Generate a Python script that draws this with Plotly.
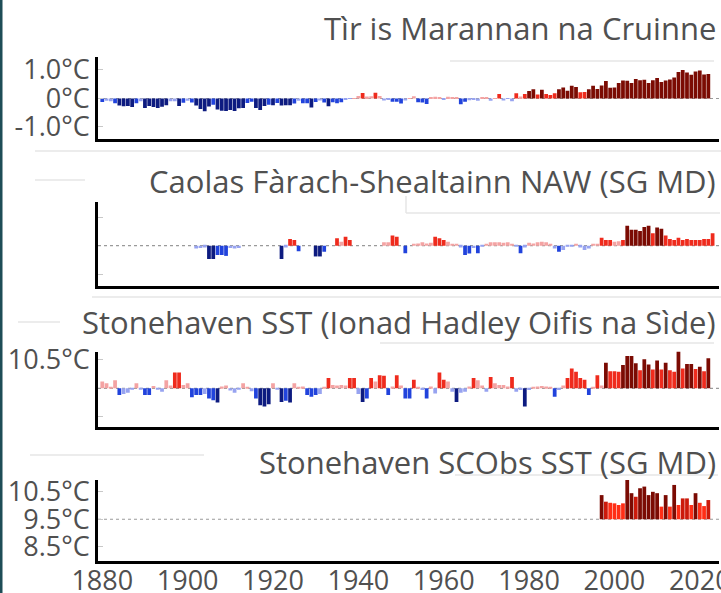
import plotly.graph_objects as go

# ---------------- data ----------------
global_years = list(range(1880, 2023))
global_anom = [
    -0.12, -0.08, -0.10, -0.17, -0.25, -0.27, -0.26, -0.30, -0.17, -0.10,
    -0.33, -0.26, -0.30, -0.33, -0.29, -0.24, -0.10, -0.10, -0.26, -0.15,
    -0.08, -0.14, -0.25, -0.37, -0.45, -0.28, -0.22, -0.39, -0.43, -0.44,
    -0.40, -0.44, -0.34, -0.33, -0.16, -0.11, -0.33, -0.40, -0.26, -0.22,
    -0.24, -0.16, -0.25, -0.24, -0.24, -0.18, -0.08, -0.17, -0.17, -0.32,
    -0.12, -0.07, -0.14, -0.27, -0.13, -0.17, -0.13, -0.02, -0.01, 0.01,
    0.09, 0.19, 0.07, 0.08, 0.20, 0.09, -0.07, -0.04, -0.11, -0.11,
    -0.18, -0.07, 0.01, 0.08, -0.13, -0.14, -0.19, 0.05, 0.06, 0.03,
    -0.03, 0.06, 0.03, 0.05, -0.20, -0.11, -0.06, -0.02, -0.08, 0.05,
    0.03, -0.08, 0.01, 0.16, -0.07, -0.01, -0.10, 0.18, 0.07, 0.16,
    0.26, 0.32, 0.14, 0.31, 0.16, 0.12, 0.18, 0.32, 0.39, 0.27,
    0.45, 0.40, 0.22, 0.23, 0.32, 0.45, 0.33, 0.46, 0.61, 0.38,
    0.39, 0.54, 0.63, 0.62, 0.54, 0.68, 0.64, 0.66, 0.54, 0.64,
    0.72, 0.58, 0.63, 0.67, 0.74, 0.93, 1.00, 0.91, 0.83, 0.95,
    0.98, 0.84, 0.86,
]

fsc_years = list(range(1902, 2024))
fsc_anom = [
    -0.05, -0.04, -0.03, -0.235, -0.235, -0.165, -0.165, -0.18, -0.04, -0.05,
    -0.04, None, None, None, None, None, None, None, None, None,
    -0.235, -0.03, 0.12, 0.10, -0.10, None, None, None, -0.19, -0.19,
    -0.106, None, None, 0.13, 0.07, 0.16, 0.10, None, None, None,
    None, None, None, None, 0.06, 0.06, 0.18, 0.16, None, -0.135,
    None, 0.03, 0.04, 0.06, 0.04, 0.05, 0.16, 0.13, 0.10, 0.07,
    0.03, 0.02, -0.03, -0.165, -0.14, -0.04, -0.135, -0.02, 0.02, 0.06,
    0.06, 0.06, 0.05, 0.06, 0.03, -0.02, -0.135, -0.03, 0.05, 0.04,
    0.06, 0.07, 0.06, 0.03, -0.05, -0.106, -0.076, -0.02, -0.02, 0.02,
    -0.03, -0.076, -0.05, 0.02, 0.03, 0.14, 0.10, 0.10, 0.07, 0.08,
    0.10, 0.35, 0.28, 0.28, 0.26, 0.33, 0.35, 0.22, 0.32, 0.30,
    0.18, 0.12, 0.10, 0.14, 0.10, 0.12, 0.10, 0.10, 0.10, 0.12,
    0.12, 0.22,
]

hadley_years = list(range(1880, 2023))
hadley_sst = [
    10.12, 10.09, 10.02, 10.14, 9.88, 9.90, 9.92, 9.98, 10.09, 9.98,
    9.88, 9.88, 10.04, 9.98, 9.94, 10.14, 10.05, 10.28, 10.28, 10.06,
    10.09, 9.84, 9.88, 9.88, 9.90, 9.82, 9.79, 9.75, 10.03, 10.05,
    9.96, 9.92, 9.98, 10.09, 10.02, 9.95, 9.82, 9.70, 9.68, 9.72,
    10.09, 9.98, 9.76, 9.78, 9.75, 10.09, 10.02, 10.03, 9.88, 9.85,
    9.88, 9.90, 10.02, 10.18, 10.06, 10.05, 10.06, 10.05, 10.18, 10.18,
    9.90, 9.76, 9.82, 10.18, 10.12, 10.23, 10.22, 9.88, 10.03, 10.23,
    10.05, 9.82, 9.82, 10.15, 10.02, 9.97, 9.82, 10.03, 9.91, 10.28,
    10.15, 10.12, 9.94, 9.76, 9.92, 9.94, 10.03, 10.18, 10.14, 10.05,
    9.94, 10.20, 10.09, 10.06, 10.06, 10.03, 10.20, 9.94, 9.97, 9.68,
    9.97, 10.02, 10.03, 10.04, 10.03, 10.02, 9.85, 9.97, 10.05, 10.18,
    10.35, 10.29, 10.18, 10.15, 9.88, 10.02, 10.23, 10.05, 10.45, 10.30,
    10.30, 10.29, 10.41, 10.57, 10.57, 10.44, 10.32, 10.51, 10.42, 10.33,
    10.49, 10.33, 10.45, 10.32, 10.29, 10.66, 10.35, 10.43, 10.43, 10.34,
    10.38, 10.30, 10.53,
]
hadley_base = 10.0

scobs_years = list(range(1997, 2023))
scobs_sst = [
    10.38, 10.14, 10.10, 10.08, 10.02, 10.08, 10.93, 10.45, 10.32, 10.63,
    10.69, 10.38, 10.50, 10.45, 9.96, 10.38, 9.96, 10.75, 10.02, 10.26,
    10.26, 10.02, 10.45, 10.10, 9.98, 10.20,
]
scobs_base = 9.5

titles = [
    "Tìr is Marannan na Cruinne",
    "Caolas Fàrach-Shealtainn NAW (SG MD)",
    "Stonehaven SST (Ionad Hadley Oifis na Sìde)",
    "Stonehaven SCObs SST (SG MD)",
]
x_tick_years = [1880, 1900, 1920, 1940, 1960, 1980, 2000, 2020]

# ---------------- styling ----------------
NAVY, BLUE, LBLUE = "#0d1b80", "#2143dc", "#97a3f0"
LPINK, RED, DRED = "#f4a3a3", "#ef2b1d", "#7b0b03"
FONT = "Open Sans"
GREY = "#505050"
FAINT = "#e6e6e6"


def colour(v, navy_t, blue_t, red_t, dred_t):
    if v is None:
        return LBLUE
    if v < navy_t:
        return NAVY
    if v < blue_t:
        return BLUE
    if v < 0:
        return LBLUE
    if v < red_t:
        return LPINK
    if v < dred_t:
        return RED
    return DRED


def scobs_colour(t):
    if t >= 10.35:
        return DRED
    if t >= 10.12:
        return "#cc1a0b"
    return "#ff2e16"


hadley_anom = [t - hadley_base for t in hadley_sst]
scobs_len = [t - scobs_base for t in scobs_sst]

fig = go.Figure()
fig.add_trace(go.Bar(
    x=global_years, y=global_anom, xaxis="x", yaxis="y",
    marker=dict(color=[colour(v, -0.22, -0.1, 0.1, 0.25) for v in global_anom], line_width=0)))
fig.add_trace(go.Bar(
    x=fsc_years, y=fsc_anom, xaxis="x2", yaxis="y2",
    marker=dict(color=[colour(v, -0.18, -0.08, 0.1, 0.25) for v in fsc_anom], line_width=0)))
fig.add_trace(go.Bar(
    x=hadley_years, y=hadley_anom, base=hadley_base, xaxis="x3", yaxis="y3",
    marker=dict(color=[colour(v, -0.23, -0.1, 0.15, 0.38) for v in hadley_anom], line_width=0)))
fig.add_trace(go.Bar(
    x=scobs_years, y=scobs_len, base=scobs_base, xaxis="x4", yaxis="y4",
    marker=dict(color=[scobs_colour(t) for t in scobs_sst], line_width=0)))

W, H = 721, 593
XD = [98 / W, 719 / W]


def ydom(top, bottom):
    return [1 - bottom / H, 1 - top / H]


xcommon = dict(domain=XD, range=[1879, 2024.5], showline=True, linecolor="black",
               linewidth=3, showgrid=False, zeroline=False, ticks="",
               showticklabels=False, fixedrange=True, automargin=False)
ycommon = dict(showline=True, linecolor="black", linewidth=2.5, showgrid=False,
               zeroline=False, ticks="inside", ticklen=5, tickcolor="#c8c8c8",
               tickfont=dict(family=FONT, size=27, color=GREY), fixedrange=True,
               automargin=False)

layout = dict(
    width=W, height=H, margin=dict(l=0, r=0, t=0, b=0, pad=0, autoexpand=False),
    paper_bgcolor="white", plot_bgcolor="white", showlegend=False,
    bargap=0.12,
    xaxis=dict(xcommon, anchor="y"),
    xaxis2=dict(xcommon, anchor="y2"),
    xaxis3=dict(xcommon, anchor="y3"),
    xaxis4=dict(xcommon, anchor="y4", showticklabels=True, tickvals=x_tick_years,
                ticktext=[str(y) for y in x_tick_years], ticklabelstandoff=-6,
                ticklabeloverflow="allow",
                tickfont=dict(family=FONT, size=27, color=GREY)),
    yaxis=dict(ycommon, anchor="x", domain=ydom(57, 138.5), range=[-1.404, 1.456],
               tickvals=[1.0, 0, -1.0], ticktext=["1.0°C", "0°C", "-1.0°C"]),
    yaxis2=dict(ycommon, anchor="x2", domain=ydom(201.7, 286), range=[-0.712, 0.777],
                tickvals=[0.5, -0.5], showticklabels=False),
    yaxis3=dict(ycommon, anchor="x3", domain=ydom(351.7, 426.7), range=[9.323, 10.645],
                tickvals=[10.5, 9.5], ticktext=["10.5°C", ""]),
    yaxis4=dict(ycommon, anchor="x4", domain=ydom(480, 561), range=[7.98, 10.93],
                tickvals=[10.5, 9.5, 8.5], ticktext=["10.5°C", "9.5°C", "8.5°C"]),
)
fig.update_layout(**layout)

shapes = []
# faint grey rules seen in the original page
faint_rules = [(35, 151, 721, 151), (92, 297, 721, 297), (35, 180, 85, 180),
               (450, 61, 714, 61), (406, 213, 720, 213), (406, 196, 406, 213),
               (380, 343, 714, 343), (455, 475, 718, 475), (30, 455, 204, 455),
               (18, 322, 60, 322)]
for x0, y0, x1, y1 in faint_rules:
    shapes.append(dict(type="line", xref="paper", yref="paper", x0=x0 / W, x1=x1 / W,
                       y0=1 - y0 / H, y1=1 - y1 / H, layer="below",
                       line=dict(color=FAINT, width=1.5)))
# baselines (dotted)
for ax, base in (("y", 0), ("y2", 0), ("y3", hadley_base), ("y4", scobs_base)):
    shapes.append(dict(type="line", xref="paper", x0=XD[0], x1=XD[1], yref=ax,
                       y0=base, y1=base, layer="below",
                       line=dict(color="#9a9a9a", width=1.2, dash="dot")))
# left page border
shapes.append(dict(type="rect", xref="paper", yref="paper", x0=0, x1=2.5 / W, y0=0, y1=1,
                   fillcolor="#1e4d57", line_width=0))
fig.update_layout(shapes=shapes)

title_y = [28, 181, 322, 462]
for t, yp in zip(titles, title_y):
    fig.add_annotation(text=t, xref="paper", yref="paper", x=718 / W, y=1 - yp / H,
                       xanchor="right", yanchor="middle", showarrow=False,
                       font=dict(family=FONT, size=31, color=GREY))

fig.write_html("out.html", config={"responsive": False, "displayModeBar": False})

# remove the browser's default page margin so the figure sits at (0, 0)
with open("out.html", encoding="utf-8") as f:
    html = f.read()
html = html.replace("<body>", '<body style="margin:0;padding:0;overflow:hidden">', 1)
with open("out.html", "w", encoding="utf-8") as f:
    f.write(html)
